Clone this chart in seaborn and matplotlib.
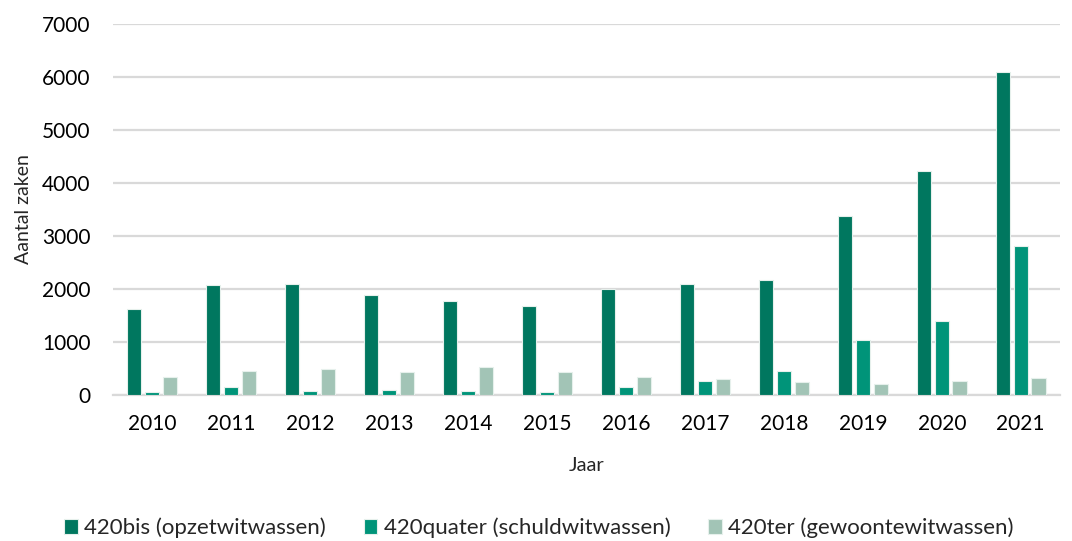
import pandas as pd
import matplotlib.pyplot as plt
import seaborn as sns

jaren = ['2010', '2011', '2012', '2013', '2014', '2015', '2016', '2017', '2018', '2019', '2020', '2021']
opzet = [1625, 2070, 2090, 1880, 1780, 1670, 1990, 2090, 2175, 3370, 4230, 6095]
schuld = [55, 150, 80, 85, 80, 55, 155, 270, 445, 1040, 1390, 2805]
gewoonte = [340, 460, 485, 440, 535, 425, 345, 305, 245, 200, 270, 325]
reeksen = ['420bis (opzetwitwassen)', '420quater (schuldwitwassen)', '420ter (gewoontewitwassen)']

df = pd.DataFrame({'Jaar': jaren * 3,
                   'Aantal': opzet + schuld + gewoonte,
                   'Soort': [reeksen[0]] * 12 + [reeksen[1]] * 12 + [reeksen[2]] * 12})

sns.set_style('white')
plt.rcParams['font.family'] = ['Lato', 'DejaVu Sans']

colors = ['#00775f', '#009479', '#a2c4b6']

fig, ax = plt.subplots(figsize=(10.72, 5.41), dpi=100)
sns.barplot(data=df, x='Jaar', y='Aantal', hue='Soort', palette=colors, saturation=1,
            width=0.68, gap=0.2, edgecolor='#e6f0ec', linewidth=0.8, ax=ax, zorder=3)

ax.set_ylim(0, 7000)
ax.set_yticks(range(0, 7001, 1000))
ax.yaxis.grid(True, color='#d9d9d9', linewidth=1.6, zorder=0)
ax.set_axisbelow(True)
for s in ['top', 'right', 'left']:
    ax.spines[s].set_visible(False)
ax.spines['bottom'].set_color('#d9d9d9')
ax.spines['bottom'].set_linewidth(1.6)
ax.tick_params(axis='both', length=0, labelsize=15, colors='black')
ax.tick_params(axis='x', pad=14)
ax.tick_params(axis='y', pad=16)
ax.set_xlabel('Jaar', fontsize=14.5, labelpad=16)
ax.set_ylabel('Aantal zaken', fontsize=14, labelpad=7)

handles, labels = ax.get_legend_handles_labels()
ax.legend_.remove()
fig.legend(handles, labels, loc='center', bbox_to_anchor=(0.503, 0.024), ncol=3, frameon=False,
           fontsize=16, handlelength=0.6, handleheight=0.6, handletextpad=0.3, columnspacing=1.7)

plt.subplots_adjust(left=0.105, right=0.989, top=0.956, bottom=0.27)
plt.savefig('out.png', dpi=100)
